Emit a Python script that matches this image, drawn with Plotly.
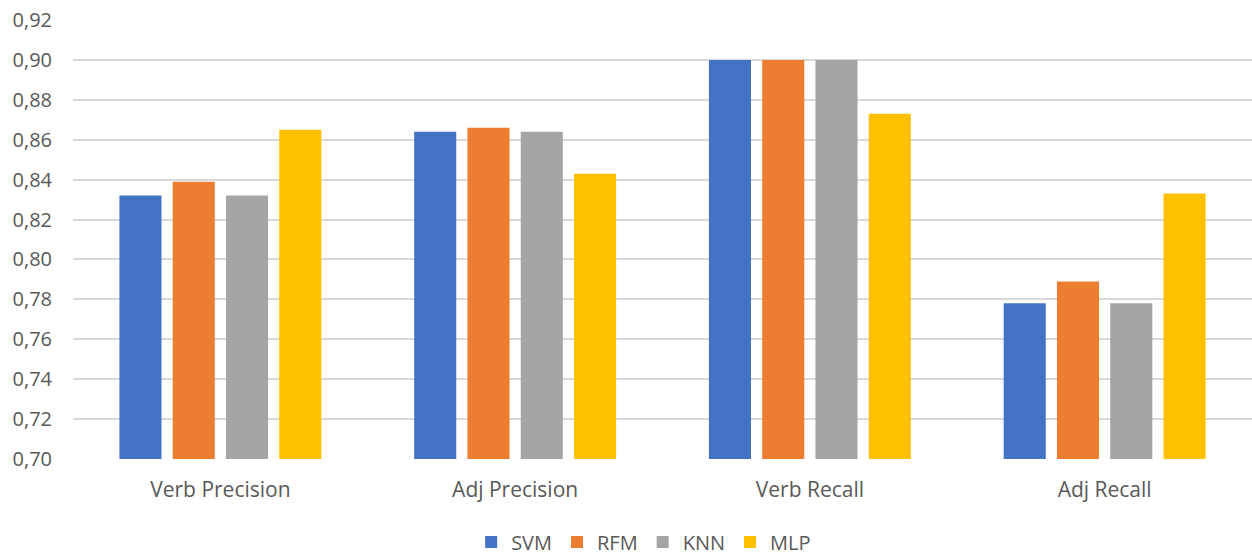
import plotly.graph_objects as go

categories = ["Verb Precision", "Adj Precision", "Verb Recall", "Adj Recall"]
svm = [0.832, 0.864, 0.900, 0.778]
rfm = [0.839, 0.866, 0.900, 0.789]
knn = [0.832, 0.864, 0.900, 0.778]
mlp = [0.865, 0.843, 0.873, 0.833]

series = [("SVM", svm, "#4472C4"), ("RFM", rfm, "#ED7D31"),
          ("KNN", knn, "#A5A5A5"), ("MLP", mlp, "#FFC000")]

fig = go.Figure()
for name, vals, color in series:
    fig.add_trace(go.Bar(name=name, x=categories, y=vals, marker_color=color,
                         marker_line_width=0))

font_family = "Open Sans, Liberation Sans, sans-serif"
fig.update_layout(
    width=1252, height=556,
    margin=dict(l=73, r=0, t=20, b=97, autoexpand=False),
    paper_bgcolor="white", plot_bgcolor="white",
    barmode="group", bargap=0.277, bargroupgap=0.21,
    separators=", ",
    font=dict(family=font_family, size=19, color="#595959"),
    yaxis=dict(range=[0.70, 0.92], dtick=0.02, tickformat=".2f",
               showgrid=True, gridcolor="#D9D9D9", gridwidth=1.5,
               zeroline=False, showline=False, ticks="", automargin=False,
               ticklabelstandoff=20,
               tickfont=dict(size=20, color="#595959")),
    xaxis=dict(showgrid=False, showline=False, ticks="", automargin=False,
               ticklabelstandoff=16,
               tickfont=dict(size=21, color="#595959")),
    legend=dict(orientation="h", x=0.484, xanchor="center",
                yref="container", y=0.025, yanchor="middle",
                font=dict(size=20, color="#595959"), itemwidth=30,
                traceorder="normal"),
    showlegend=True,
)

fig.write_html("out.html", config={"displayModeBar": False},
               post_script="document.body.style.margin='0px';")
